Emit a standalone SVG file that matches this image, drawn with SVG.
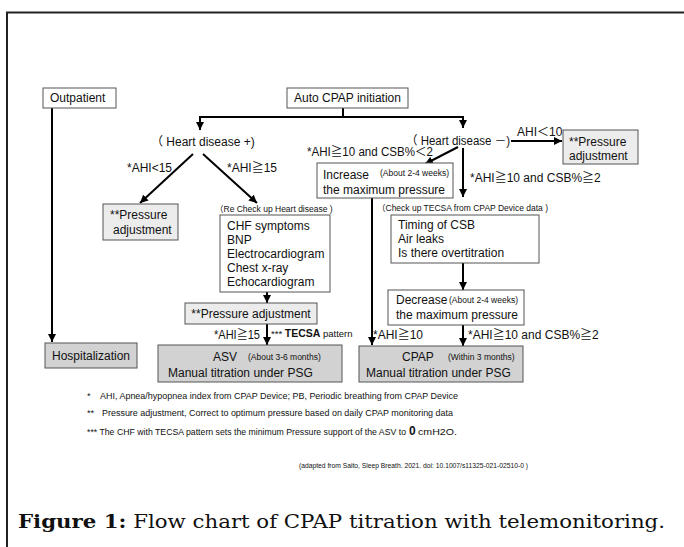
<svg xmlns="http://www.w3.org/2000/svg" width="684" height="547" viewBox="0 0 684 547">
<style>
text{font-family:"Liberation Sans",Arial,"Noto Sans CJK JP",sans-serif;fill:#111}
.t{font-size:12px}
.s{font-size:8.5px}
.f{font-size:9.2px}
.box{fill:#fff;stroke:#555;stroke-width:1}
.lt{fill:#ececec;stroke:#555;stroke-width:1}
.dk{fill:#d2d2d2;stroke:#555;stroke-width:1}
.c{fill:none;stroke:#000;stroke-width:2}
</style>
<defs>
<marker id="ah" markerUnits="userSpaceOnUse" markerWidth="9" markerHeight="9" refX="8" refY="4.5" orient="auto">
<path d="M0,0.5 L8,4.5 L0,8.5 z" fill="#000"/>
</marker>
</defs>
<rect width="684" height="547" fill="#fff"/>
<path d="M7,547 V12.5 H684" fill="none" stroke="#222" stroke-width="2"/>

<g id="connectors">
<path class="c" d="M52,108 V342" marker-end="url(#ah)"/>
<path class="c" d="M343,107 V117"/>
<path class="c" d="M199,117 H464"/>
<path class="c" d="M200,117 V130" marker-end="url(#ah)"/>
<path class="c" d="M463,117 V128" marker-end="url(#ah)"/>
<path class="c" d="M511,141 H562" marker-end="url(#ah)"/>
<path class="c" d="M193,154 L140,203" marker-end="url(#ah)"/>
<path class="c" d="M203,154 L257,203" marker-end="url(#ah)"/>
<path class="c" d="M458,147 L425,164" marker-end="url(#ah)"/>
<path class="c" d="M463,148 V197" marker-end="url(#ah)"/>
<path class="c" d="M372,198 V345" marker-end="url(#ah)"/>
<path class="c" d="M267,292 V303" marker-end="url(#ah)"/>
<path class="c" d="M267,324 V345" marker-end="url(#ah)"/>
<path class="c" d="M463,263 V290" marker-end="url(#ah)"/>
<path class="c" d="M463,325 V346" marker-end="url(#ah)"/>
</g>

<g id="edge-labels">
<text class="t" x="517" y="136">AHI＜10</text>
<text class="t" x="127" y="172">*AHI&lt;15</text>
<text class="t" x="227" y="172">*AHI≧15</text>
<text class="t" x="307" y="156" textLength="126" lengthAdjust="spacingAndGlyphs">*AHI≧10 and CSB%＜2</text>
<text class="t" x="470" y="182">*AHI≧10 and CSB%≧2</text>
<text class="t" x="214" y="339" textLength="46" lengthAdjust="spacingAndGlyphs">*AHI≧15</text>
<text x="271" y="337" style="font-size:9.5px">*** <tspan font-weight="bold" font-size="10.5px">TECSA</tspan> pattern</text>
<text class="t" x="373" y="339">*AHI≧10</text>
<text class="t" x="468" y="339">*AHI≧10 and CSB%≧2</text>
<text class="s" x="215" y="212">（Re Check up Heart disease )</text>
<text class="s" x="377" y="211">（Check up TECSA from CPAP Device data )</text>
</g>

<g id="outpatient">
<rect class="box" x="43" y="88" width="73" height="20"/>
<text class="t" x="50" y="102">Outpatient</text>
</g>

<g id="auto-cpap">
<rect class="box" x="287" y="88" width="121" height="20"/>
<text class="t" x="347.5" y="102" text-anchor="middle">Auto CPAP initiation</text>
</g>

<g id="heart-plus">
<text class="t" x="151" y="146">（ Heart disease +)</text>
</g>

<g id="heart-minus">
<text class="t" x="406" y="145" textLength="104" lengthAdjust="spacingAndGlyphs">（ Heart disease －)</text>
</g>

<g id="pressure-right">
<rect class="lt" x="563" y="130" width="75" height="34"/>
<text class="t" x="569" y="146">**Pressure</text>
<text class="t" x="569" y="160">adjustment</text>
</g>

<g id="pressure-left">
<rect class="lt" x="103" y="204" width="75" height="36"/>
<text class="t" x="110" y="219">**Pressure</text>
<text class="t" x="113" y="234">adjustment</text>
</g>

<g id="heart-checks">
<rect class="box" x="220" y="215" width="110" height="77"/>
<text class="t" x="227" y="230">CHF symptoms</text>
<text class="t" x="227" y="244">BNP</text>
<text class="t" x="227" y="258">Electrocardiogram</text>
<text class="t" x="227" y="272">Chest x-ray</text>
<text class="t" x="227" y="286">Echocardiogram</text>
</g>

<g id="pressure-mid">
<rect class="lt" x="185" y="303" width="132" height="21"/>
<text class="t" x="251" y="318" text-anchor="middle">**Pressure adjustment</text>
</g>

<g id="increase">
<rect class="box" x="317" y="163" width="136" height="35"/>
<text class="t" x="323" y="179">Increase</text>
<text class="s" x="380" y="176">(About 2-4 weeks)</text>
<text class="t" x="323" y="194">the maximum pressure</text>
</g>

<g id="tecsa-checks">
<rect class="box" x="391" y="215" width="148" height="48"/>
<text class="t" x="398" y="229">Timing of CSB</text>
<text class="t" x="398" y="243">Air leaks</text>
<text class="t" x="398" y="257">Is there overtitration</text>
</g>

<g id="decrease">
<rect class="box" x="388" y="290" width="136" height="35"/>
<text class="t" x="396" y="304">Decrease</text>
<text class="s" x="449" y="303">(About 2-4 weeks)</text>
<text class="t" x="396" y="319">the maximum pressure</text>
</g>

<g id="hospitalization">
<rect class="dk" x="45" y="343" width="92" height="25"/>
<text class="t" x="52" y="360">Hospitalization</text>
</g>

<g id="asv">
<rect class="dk" x="158" y="345" width="184" height="37"/>
<text class="t" x="213" y="361">ASV</text>
<text class="s" x="248" y="360">(About 3-6 months)</text>
<text class="t" x="168" y="377">Manual titration under PSG</text>
</g>

<g id="cpap">
<rect class="dk" x="359" y="346" width="164" height="36"/>
<text class="t" x="402" y="361">CPAP</text>
<text class="s" x="448" y="360">(Within 3 months)</text>
<text class="t" x="366" y="377">Manual titration under PSG</text>
</g>

<g id="footnotes">
<text class="f" x="87" y="399">*</text>
<text class="f" x="100" y="399" textLength="358" lengthAdjust="spacingAndGlyphs">AHI, Apnea/hypopnea index from CPAP Device; PB, Periodic breathing from CPAP Device</text>
<text class="f" x="87" y="416">**</text>
<text class="f" x="102" y="416" textLength="351" lengthAdjust="spacingAndGlyphs">Pressure adjustment, Correct to optimum pressure based on daily CPAP monitoring data</text>
<text x="87" y="435" style="font-size:8.65px" textLength="319" lengthAdjust="spacingAndGlyphs">*** The CHF with TECSA pattern sets the minimum Pressure support of the ASV to</text>
<text x="409" y="435" style="font-size:12px;font-weight:bold">0</text>
<text x="418" y="435" style="font-size:8.65px" textLength="39" lengthAdjust="spacingAndGlyphs">cmH2O.</text>
<text style="font-size:8px" x="299" y="468" textLength="229" lengthAdjust="spacingAndGlyphs">(adapted from Saito, Sleep Breath. 2021. doi: 10.1007/s11325-021-02510-0 )</text>
</g>

<g id="caption">
<text x="18" y="528" style="font-family:'DejaVu Serif','Liberation Serif',serif;font-size:19px" textLength="647" lengthAdjust="spacingAndGlyphs"><tspan font-weight="bold">Figure 1:</tspan> Flow chart of CPAP titration with telemonitoring.</text>
</g>
</svg>
